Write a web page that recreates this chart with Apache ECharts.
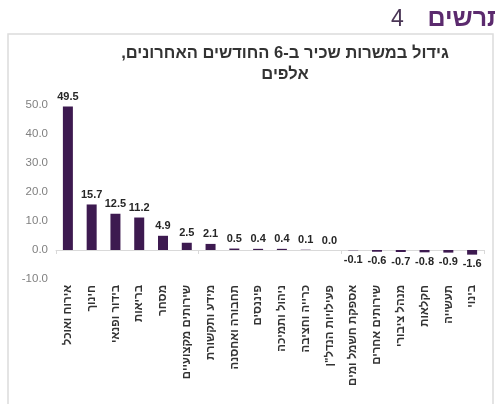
<!DOCTYPE html>
<html>
<head>
    <meta charset="UTF-8">
    <title>גידול במשרות שכיר</title>
    <script src="https://cdn.jsdelivr.net/npm/echarts@6/dist/echarts.min.js"></script>
    <style>
        html, body { margin: 0; padding: 0; background: #fff; }
    </style>
</head>
<body>
<div id="chart" dir="rtl" style="width:495px;height:404px;"></div>
<script type="text/javascript">

    var categories = ['אירוח ואוכל', 'חינוך', 'בידור ופנאי', 'בריאות', 'מסחר', 'שירותים מקצועיים',
        'מידע ותקשורת', 'תחבורה ואחסנה', 'פיננסים', 'ניהול ותמיכה', 'כרייה וחציבה', 'פעילויות הנדל"ן',
        'אספקת חשמל ומים', 'שירותים אחרים', 'מנהל ציבורי', 'חקלאות', 'תעשייה', 'בינוי'];
    var values = [49.5, 15.7, 12.5, 11.2, 4.9, 2.5, 2.1, 0.5, 0.4, 0.4, 0.1, 0.0,
        -0.1, -0.6, -0.7, -0.8, -0.9, -1.6];
    var yTicks = [-10, 0, 10, 20, 30, 40, 50];

    var font = '"Liberation Sans", "DejaVu Sans", sans-serif';
    // canvas is rtl for the hebrew text, so numbers get an LRM in front to keep the minus on the left
    function num(v) {
        return '\u200E' + v.toFixed(1);
    }

    var myChart = echarts.init(document.getElementById('chart'));

    myChart.setOption({
        backgroundColor: '#fff',
        animation: false,
        title: {
            text: 'גידול במשרות שכיר ב-6 החודשים האחרונים,\nאלפים',
            left: 280,
            top: 38,
            textAlign: 'center',
            textStyle: {
                fontFamily: font, fontSize: 16.5, fontWeight: 'bold',
                color: '#333', lineHeight: 21
            }
        },
        graphic: [
            {
                type: 'rect', silent: true,
                shape: {x: 8, y: 34, width: 485, height: 400},
                style: {fill: 'none', stroke: '#dcdcdc', lineWidth: 1.5}
            },
            {
                type: 'text', silent: true, x: 505, y: 7,
                style: {text: 'תרשים', align: 'right', font: 'bold 25px ' + font, fill: '#5b2a6e'}
            },
            {
                type: 'text', silent: true, x: 391, y: 8,
                style: {text: '4', align: 'left', font: '23px ' + font, fill: '#4a3656'}
            }
        ],
        grid: {left: 56, right: 11, top: 105, bottom: 125, containLabel: false},
        xAxis: [
            {
                type: 'category', data: categories, position: 'top',
                axisLine: {onZero: true, lineStyle: {color: '#d9d9d9', width: 1}},
                axisTick: {show: true, inside: true, length: 4, lineStyle: {color: '#d9d9d9'}},
                axisLabel: {show: false},
                splitLine: {show: false}
            },
            {
                type: 'category', data: categories, position: 'bottom',
                axisLine: {show: false}, axisTick: {show: false},
                axisLabel: {
                    rotate: 90, margin: 6, interval: 0,
                    fontFamily: font, fontSize: 11.5, fontWeight: 'bold', color: '#333'
                }
            }
        ],
        yAxis: {
            type: 'value', min: yTicks[0], max: yTicks[yTicks.length - 1], interval: 10,
            axisLine: {show: false}, axisTick: {show: false},
            splitLine: {show: false},
            axisLabel: {
                fontFamily: font, fontSize: 11.5, color: '#808080', margin: 8,
                formatter: function (v) { return num(v); }
            }
        },
        series: [{
            type: 'bar', xAxisIndex: 0, barWidth: 10,
            itemStyle: {color: '#3d1a50'},
            label: {
                show: true, distance: 4,
                fontFamily: font, fontSize: 11, fontWeight: 'bold', color: '#262626',
                formatter: function (p) { return num(p.value); }
            },
            data: values.map(function (v) {
                return {value: v, label: {position: v < 0 ? 'bottom' : 'top'}};
            })
        }]
    });
</script>
</body>
</html>
